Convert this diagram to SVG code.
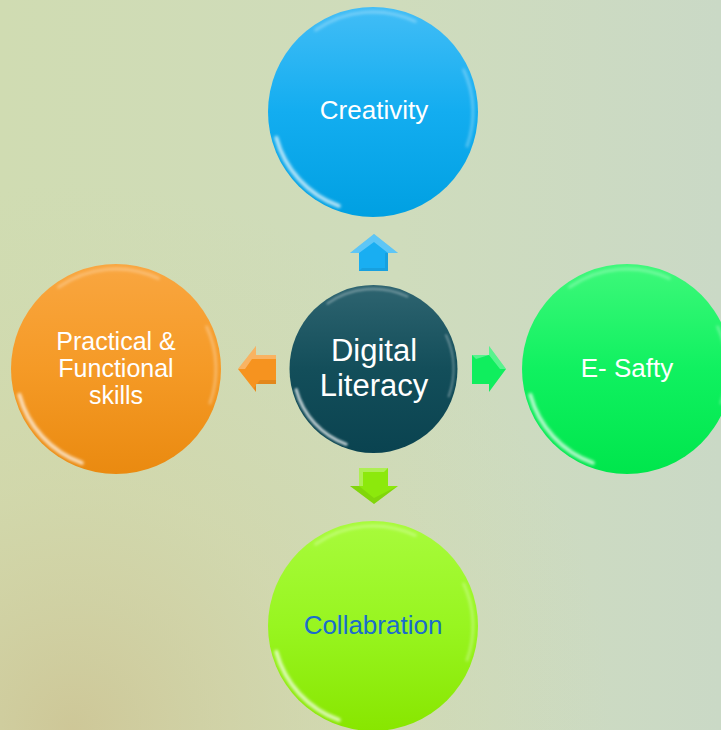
<svg xmlns="http://www.w3.org/2000/svg" xmlns:xlink="http://www.w3.org/1999/xlink" width="721" height="730" viewBox="0 0 721 730">
  <defs>
    <linearGradient id="bgH" x1="0" y1="0" x2="1" y2="0">
      <stop offset="0" stop-color="#d0dcb2"/>
      <stop offset="0.55" stop-color="#cfdcbc"/>
      <stop offset="1" stop-color="#cad9c6"/>
    </linearGradient>
    <radialGradient id="bgTan" cx="0.1" cy="1" r="0.75">
      <stop offset="0" stop-color="#cdc08e" stop-opacity="0.75"/>
      <stop offset="0.45" stop-color="#d3d2a2" stop-opacity="0.45"/>
      <stop offset="1" stop-color="#d2d8ac" stop-opacity="0"/>
    </radialGradient>
    <linearGradient id="gBlue" x1="0" y1="0" x2="0" y2="1">
      <stop offset="0" stop-color="#42bdf6"/>
      <stop offset="0.5" stop-color="#13adf0"/>
      <stop offset="1" stop-color="#00a0e2"/>
    </linearGradient>
    <linearGradient id="gGreen" x1="0" y1="0" x2="0" y2="1">
      <stop offset="0" stop-color="#3ef87a"/>
      <stop offset="0.5" stop-color="#10f160"/>
      <stop offset="1" stop-color="#00e64c"/>
    </linearGradient>
    <linearGradient id="gOrange" x1="0" y1="0" x2="0" y2="1">
      <stop offset="0" stop-color="#f9a640"/>
      <stop offset="0.5" stop-color="#f59a26"/>
      <stop offset="1" stop-color="#ea8a10"/>
    </linearGradient>
    <linearGradient id="gLime" x1="0" y1="0" x2="0" y2="1">
      <stop offset="0" stop-color="#a8fb3c"/>
      <stop offset="0.5" stop-color="#98f520"/>
      <stop offset="1" stop-color="#88e600"/>
    </linearGradient>
    <linearGradient id="gTeal" x1="0" y1="0" x2="0" y2="1">
      <stop offset="0" stop-color="#2e6470"/>
      <stop offset="0.5" stop-color="#134e5a"/>
      <stop offset="1" stop-color="#0a4350"/>
    </linearGradient>
    <filter id="soft" x="-20%" y="-20%" width="140%" height="140%">
      <feGaussianBlur stdDeviation="1.6"/>
    </filter>
    <g id="gloss" filter="url(#soft)" fill="none" stroke="#ffffff" stroke-linecap="round">
      <path d="M -96.6 25.9 A 100 100 0 0 0 -34.2 93.97" stroke-width="4" stroke-opacity="0.7"/>
      <path d="M -57.36 -81.92 A 100 100 0 0 1 42.26 -90.63" stroke-width="3" stroke-opacity="0.3"/>
      <path d="M 90.63 -42.26 A 100 100 0 0 1 93.97 34.2" stroke-width="2.5" stroke-opacity="0.35"/>
    </g>
    <style>
      .lbl { font-family: "Liberation Sans", Arial, sans-serif; font-size: 26px; fill: #ffffff; text-anchor: middle; }
      .ctr { font-size: 31px; }
      .sm { font-size: 25px; }
      .arrHi { fill: #ffffff; fill-opacity: 0.3; }
      .arrSh { fill: #000000; fill-opacity: 0.08; }
    </style>
  </defs>

  <rect x="0" y="0" width="721" height="730" fill="url(#bgH)"/>
  <rect x="0" y="0" width="721" height="730" fill="url(#bgTan)"/>

  <g id="connectors">
    <g id="arrow-up">
      <polygon points="374,234 398,253 388,253 388,271 359,271 359,253 350,253" fill="#19aef2"/>
      <polygon points="374,234 398,253 388,253 374,242 359,253 350,253" class="arrHi"/>
      <polygon points="385,253 388,253 388,271 359,271 362,268 385,268" class="arrSh"/>
    </g>
    <g id="arrow-left">
      <polygon points="238,369 256,346 256,355 276,355 276,384 256,384 256,392" fill="#f6931f"/>
      <polygon points="238,369 256,346 256,355 276,355 276,359 252,359 245,369" class="arrHi"/>
      <polygon points="260,380 276,380 276,384 256,384 256,392 254,388" class="arrSh"/>
    </g>
    <g id="arrow-right">
      <polygon points="472,355 489,355 489,346 506,369 489,392 489,384 472,384" fill="#10ee5e"/>
      <polygon points="472,355 489,355 489,346 506,369 500,369 489,355 476,359" class="arrHi"/>
    </g>
    <g id="arrow-down">
      <polygon points="359,468 388,468 388,486 398,486 374,504 350,486 359,486" fill="#8ce90c"/>
      <polygon points="359,468 388,468 384,472 363,472 363,486 359,486" class="arrHi"/>
      <polygon points="350,486 359,486 374,498 398,486 374,504" class="arrSh"/>
    </g>
  </g>

  <g id="node-creativity">
    <circle cx="373" cy="112" r="105" fill="url(#gBlue)"/>
    <use xlink:href="#gloss" transform="translate(373,112)"/>
    <text class="lbl" x="374" y="119">Creativity</text>
  </g>

  <g id="node-esafety">
    <circle cx="627" cy="369" r="105" fill="url(#gGreen)"/>
    <use xlink:href="#gloss" transform="translate(627,369)"/>
    <text class="lbl" x="627" y="377">E- Safty</text>
  </g>

  <g id="node-practical">
    <circle cx="116" cy="369" r="105" fill="url(#gOrange)"/>
    <use xlink:href="#gloss" transform="translate(116,369)"/>
    <text class="lbl sm" x="116" y="350">Practical &amp;</text>
    <text class="lbl sm" x="116" y="377">Functional</text>
    <text class="lbl sm" x="116" y="404">skills</text>
  </g>

  <g id="node-collaboration">
    <circle cx="373" cy="626" r="105" fill="url(#gLime)"/>
    <use xlink:href="#gloss" transform="translate(373,626)"/>
    <text class="lbl" x="373" y="634" style="fill:#1a6ccc">Collabration</text>
  </g>

  <g id="node-digital-literacy">
    <circle cx="373.5" cy="369" r="84" fill="url(#gTeal)"/>
    <use xlink:href="#gloss" transform="translate(373.5,369) scale(0.8)"/>
    <text class="lbl ctr" x="374" y="361">Digital</text>
    <text class="lbl ctr" x="374" y="396">Literacy</text>
  </g>
</svg>
